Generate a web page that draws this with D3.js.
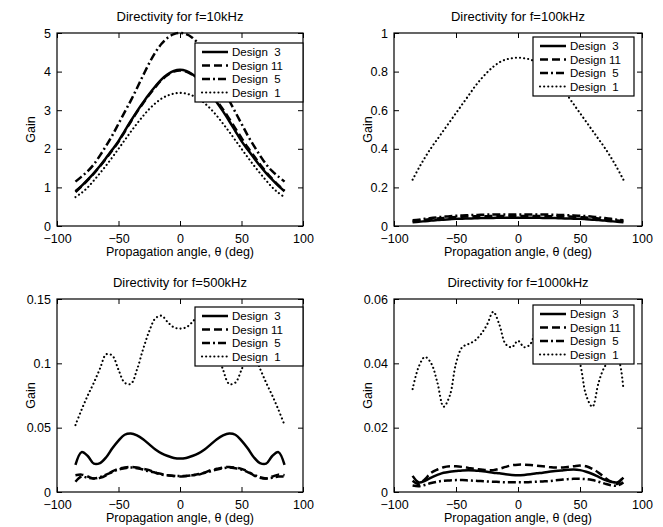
<!DOCTYPE html>
<html>
<head>
<meta charset="utf-8">
<script src="https://cdn.jsdelivr.net/npm/d3@7"></script>
<style>
  html, body { margin: 0; padding: 0; background: #fff; }
  svg { display: block; font-family: "Liberation Sans", Arial, Helvetica, sans-serif; }
</style>
</head>
<body>
<svg id="chart" width="663" height="527"></svg>
<script>
// Propagation angles (deg) shared by every curve
const angles = [-85,-80,-75,-70,-65,-60,-55,-50,-45,-40,-35,-30,-25,-20,-15,-10,-5,0,
                5,10,15,20,25,30,35,40,45,50,55,60,65,70,75,80,85];

const designNames = ["Design  3", "Design 11", "Design  5", "Design  1"];

// f = 10 kHz
const gain10k_d3  = [0.9,1.04,1.2,1.37,1.56,1.77,1.98,2.2,2.46,2.72,2.97,3.2,3.42,3.62,3.8,3.93,4.02,4.05,4.02,3.93,3.8,3.62,3.42,3.2,2.97,2.72,2.46,2.2,1.98,1.77,1.56,1.37,1.2,1.04,0.9];
const gain10k_d11 = [0.88,1.03,1.19,1.36,1.55,1.75,1.96,2.18,2.44,2.7,2.95,3.18,3.4,3.6,3.78,3.91,4.0,4.03,4.0,3.92,3.8,3.64,3.45,3.24,3.02,2.78,2.53,2.28,2.04,1.82,1.6,1.4,1.22,1.06,0.92];
const gain10k_d5  = [1.15,1.28,1.42,1.6,1.83,2.08,2.35,2.65,2.95,3.25,3.57,3.9,4.22,4.5,4.72,4.88,4.97,5.0,4.97,4.88,4.72,4.5,4.22,3.9,3.57,3.25,2.95,2.65,2.35,2.08,1.83,1.6,1.42,1.28,1.15];
const gain10k_d1  = [0.75,0.86,1.0,1.18,1.37,1.57,1.78,2.0,2.22,2.44,2.65,2.85,3.03,3.18,3.3,3.38,3.43,3.45,3.43,3.38,3.3,3.18,3.03,2.85,2.65,2.44,2.22,2.0,1.78,1.57,1.37,1.18,1.0,0.86,0.75];

// f = 100 kHz
const gain100k_d3  = [0.02,0.022,0.025,0.028,0.031,0.033,0.035,0.037,0.038,0.039,0.04,0.041,0.042,0.042,0.043,0.043,0.043,0.043,0.043,0.043,0.043,0.042,0.042,0.041,0.04,0.039,0.038,0.037,0.035,0.033,0.031,0.028,0.025,0.022,0.02];
const gain100k_d11 = [0.025,0.028,0.032,0.036,0.039,0.042,0.044,0.046,0.048,0.049,0.05,0.051,0.051,0.052,0.052,0.052,0.052,0.052,0.052,0.052,0.052,0.052,0.051,0.051,0.05,0.049,0.048,0.046,0.044,0.042,0.039,0.036,0.032,0.028,0.025];
const gain100k_d5  = [0.03,0.033,0.037,0.041,0.045,0.048,0.051,0.053,0.055,0.056,0.057,0.058,0.059,0.059,0.06,0.06,0.06,0.06,0.06,0.06,0.06,0.059,0.059,0.058,0.057,0.056,0.055,0.053,0.051,0.048,0.045,0.041,0.037,0.033,0.03];
const gain100k_d1  = [0.24,0.3,0.355,0.405,0.45,0.495,0.54,0.585,0.63,0.675,0.72,0.76,0.795,0.825,0.848,0.862,0.869,0.872,0.869,0.862,0.848,0.825,0.795,0.76,0.72,0.675,0.63,0.585,0.54,0.495,0.45,0.405,0.355,0.3,0.24];

// f = 500 kHz
const gain500k_d3  = [0.021,0.031,0.028,0.022,0.0225,0.027,0.034,0.04,0.0445,0.0455,0.044,0.041,0.037,0.033,0.03,0.028,0.0265,0.026,0.0265,0.028,0.03,0.033,0.037,0.041,0.044,0.0455,0.0445,0.04,0.034,0.027,0.0225,0.022,0.028,0.031,0.021];
const gain500k_d11 = [0.013,0.0135,0.012,0.0105,0.011,0.013,0.016,0.018,0.019,0.0195,0.019,0.018,0.017,0.015,0.014,0.013,0.0125,0.012,0.0125,0.013,0.014,0.015,0.017,0.018,0.019,0.0195,0.019,0.018,0.016,0.013,0.011,0.0105,0.012,0.0135,0.013];
const gain500k_d5  = [0.008,0.012,0.011,0.0105,0.0115,0.0135,0.0155,0.0175,0.0185,0.019,0.0185,0.0175,0.016,0.015,0.0135,0.013,0.0125,0.0125,0.0125,0.013,0.0135,0.015,0.016,0.0175,0.0185,0.019,0.0185,0.0175,0.0155,0.0135,0.0115,0.0105,0.011,0.012,0.012];
const gain500k_d1  = [0.052,0.064,0.075,0.085,0.096,0.107,0.106,0.095,0.085,0.084,0.095,0.111,0.125,0.135,0.137,0.132,0.128,0.127,0.128,0.132,0.137,0.135,0.125,0.111,0.095,0.084,0.085,0.095,0.106,0.107,0.096,0.085,0.075,0.064,0.052];

// f = 1000 kHz
const gain1000k_d3  = [0.005,0.003,0.0035,0.0045,0.0053,0.006,0.0063,0.0065,0.0067,0.0068,0.0067,0.0065,0.0063,0.006,0.0058,0.0055,0.0053,0.0052,0.0053,0.0055,0.0058,0.006,0.0063,0.0065,0.0067,0.0069,0.007,0.0068,0.0063,0.0056,0.0047,0.0038,0.0032,0.003,0.0045];
const gain1000k_d11 = [0.0035,0.0025,0.004,0.006,0.007,0.0077,0.008,0.008,0.0078,0.0075,0.0072,0.007,0.0068,0.0068,0.0072,0.0078,0.0083,0.0085,0.0085,0.0084,0.0082,0.008,0.0078,0.0076,0.0076,0.0078,0.008,0.0082,0.008,0.0072,0.006,0.0045,0.0032,0.0025,0.005];
const gain1000k_d5  = [0.002,0.0018,0.0022,0.0028,0.0032,0.0035,0.0036,0.0037,0.0037,0.0036,0.0035,0.0034,0.0033,0.0032,0.0031,0.003,0.003,0.003,0.003,0.0031,0.0032,0.0033,0.0034,0.0036,0.0038,0.004,0.0041,0.0041,0.004,0.0037,0.0032,0.0026,0.0021,0.002,0.003];
const gain1000k_d1  = [0.032,0.039,0.042,0.04,0.034,0.0265,0.03,0.04,0.045,0.046,0.047,0.049,0.052,0.056,0.052,0.046,0.045,0.047,0.045,0.046,0.052,0.056,0.052,0.049,0.047,0.046,0.045,0.04,0.03,0.0265,0.034,0.039,0.041,0.042,0.032];

// Tick values
const xTicks = [-100, -50, 0, 50, 100];
const yTicks10k   = [0, 1, 2, 3, 4, 5];
const yTicks100k  = [0, 0.2, 0.4, 0.6, 0.8, 1];
const yTicks500k  = [0, 0.05, 0.1, 0.15];
const yTicks1000k = [0, 0.02, 0.04, 0.06];

// Line style per design: solid, dashed, dash-dot, dotted
const lineStyles = [
  { dash: null,        width: 2.5, cap: "butt"  },
  { dash: "8,4",       width: 2.5, cap: "butt"  },
  { dash: "8,3,2,3",   width: 2.5, cap: "butt"  },
  { dash: "0.1,4",     width: 2.1, cap: "round" }
];

const panels = [
  { title: "Directivity for f=10kHz",   x0: 57,  y0: 33,  w: 246, h: 193, yMax: 5,    yTicks: yTicks10k,
    series: [gain10k_d3, gain10k_d11, gain10k_d5, gain10k_d1], legend: { dx: 138, dy: 10, w: 108 } },
  { title: "Directivity for f=100kHz",  x0: 394, y0: 33,  w: 248, h: 193, yMax: 1,    yTicks: yTicks100k,
    series: [gain100k_d3, gain100k_d11, gain100k_d5, gain100k_d1], legend: { dx: 139, dy: 4, w: 101 } },
  { title: "Directivity for f=500kHz",  x0: 57,  y0: 299, w: 246, h: 193, yMax: 0.15, yTicks: yTicks500k,
    series: [gain500k_d3, gain500k_d11, gain500k_d5, gain500k_d1], legend: { dx: 138, dy: 8, w: 108 } },
  { title: "Directivity for f=1000kHz", x0: 394, y0: 299, w: 248, h: 193, yMax: 0.06, yTicks: yTicks1000k,
    series: [gain1000k_d3, gain1000k_d11, gain1000k_d5, gain1000k_d1], legend: { dx: 139, dy: 6, w: 101 } }
];

const svg = d3.select("#chart");
svg.append("rect").attr("width", 663).attr("height", 527).attr("fill", "#fff");

const fmt = d3.format("~g");

panels.forEach((p) => {
  const g = svg.append("g").attr("transform", `translate(${p.x0},${p.y0})`);
  const x = d3.scaleLinear().domain([-100, 100]).range([0, p.w]);
  const y = d3.scaleLinear().domain([0, p.yMax]).range([p.h, 0]);

  // Axes with inward ticks on all four sides
  const axB = g.append("g").attr("transform", `translate(0,${p.h})`)
    .call(d3.axisBottom(x).tickValues(xTicks).tickSize(-5).tickPadding(8).tickFormat(d => fmt(d)));
  g.append("g")
    .call(d3.axisLeft(y).tickValues(p.yTicks).tickSize(-5).tickPadding(6).tickFormat(d => fmt(d)));
  g.append("g").call(d3.axisTop(x).tickValues(xTicks).tickSize(-5).tickFormat(""));
  g.append("g").attr("transform", `translate(${p.w},0)`)
    .call(d3.axisRight(y).tickValues(p.yTicks).tickSize(-5).tickFormat(""));
  g.selectAll(".domain").remove();
  g.selectAll(".tick line").attr("stroke", "#000").attr("stroke-width", 1);
  g.selectAll(".tick text").attr("fill", "#000").style("font-size", "12.5px")
    .style("font-family", '"Liberation Sans", Arial, sans-serif');
  axB.selectAll(".tick text").attr("dy", "0.75em");

  // Curves
  const line = d3.line()
    .x((d, i) => x(angles[i]))
    .y(d => y(d))
    .curve(d3.curveCatmullRom.alpha(0.5));
  const curves = g.append("g");
  p.series.forEach((vals, si) => {
    const st = lineStyles[si];
    curves.append("path")
      .attr("d", line(vals))
      .attr("fill", "none")
      .attr("stroke", "#000")
      .attr("stroke-width", st.width)
      .attr("stroke-linecap", st.cap)
      .attr("stroke-linejoin", "round")
      .attr("stroke-dasharray", st.dash);
  });

  // Plot frame
  g.append("rect").attr("width", p.w).attr("height", p.h)
    .attr("fill", "none").attr("stroke", "#000").attr("stroke-width", 1.2);

  // Title and axis labels
  g.append("text").attr("x", p.w / 2).attr("y", -12).attr("text-anchor", "middle")
    .style("font-size", "13px").text(p.title);
  g.append("text").attr("x", p.w / 2).attr("y", p.h + 30).attr("text-anchor", "middle")
    .style("font-size", "12.5px").text("Propagation angle, θ (deg)");
  g.append("text").attr("transform", `translate(-22,${p.h / 2}) rotate(-90)`)
    .attr("text-anchor", "middle").style("font-size", "12.5px").text("Gain");

  // Legend
  const L = p.legend;
  const lg = g.append("g").attr("transform", `translate(${L.dx},${L.dy})`);
  lg.append("rect").attr("width", L.w).attr("height", 59)
    .attr("fill", "#fff").attr("stroke", "#000").attr("stroke-width", 1.2);
  designNames.forEach((name, si) => {
    const st = lineStyles[si];
    const cy = 9 + si * 13.5;
    lg.append("line").attr("x1", 7).attr("x2", 33).attr("y1", cy).attr("y2", cy)
      .attr("stroke", "#000").attr("stroke-width", st.width)
      .attr("stroke-linecap", st.cap).attr("stroke-dasharray", st.dash);
    lg.append("text").attr("x", 37).attr("y", cy).attr("dy", "0.36em")
      .style("font-size", "11.5px").style("white-space", "pre").text(name);
  });
});
</script>
</body>
</html>
